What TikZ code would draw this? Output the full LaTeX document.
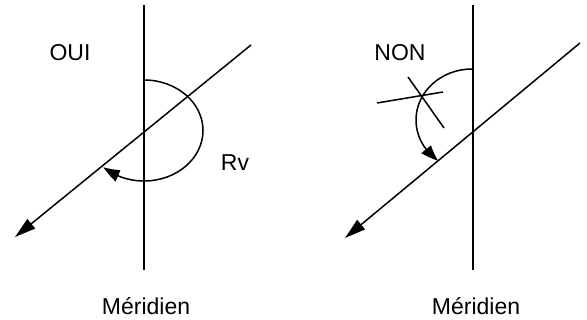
\documentclass[tikz,border=0pt]{standalone}
\usepackage{fontspec}
\setmainfont{Liberation Sans}
\usetikzlibrary{arrows.meta,bending}
\begin{document}
\begin{tikzpicture}[x=1pt,y=1pt,
  ligne/.style={line width=1.5pt,black},
  bigarrow/.style={ligne,-{Triangle[length=21pt,width=12pt]}},
  smallarrow/.style={ligne,-{Triangle[length=17pt,width=12pt,bend]}},
  lbl/.style={inner sep=0pt,font=\fontsize{23}{26}\selectfont}]
\useasboundingbox (0,0) rectangle (587,320);
% ---- left diagram ----
\coordinate (m1t) at (144,315);
\coordinate (m1b) at (144,50);
\coordinate (r1s) at (251,275);
\coordinate (r1e) at (15,83);
\coordinate (a1s) at (144,240);
\draw[ligne] (m1t) -- (m1b);
\draw[bigarrow] (r1s) -- (r1e);
\draw[smallarrow] (a1s) arc[start angle=90,end angle=-133.5,x radius=59,y radius=50.5];
\node[lbl] (oui) at (70,267) {OUI};
\node[lbl] (rv) at (235,157) {Rv};
\node[lbl] (mer1) at (146,14) {Méridien};
% ---- right diagram ----
\coordinate (m2t) at (473,315);
\coordinate (m2b) at (473,50);
\coordinate (r2s) at (580,277);
\coordinate (r2e) at (345,82);
\coordinate (a2s) at (472,251);
\draw[ligne] (m2t) -- (m2b);
\draw[bigarrow] (r2s) -- (r2e);
\draw[smallarrow] (a2s) arc[start angle=90,end angle=233,x radius=56,y radius=51];
\coordinate (c1a) at (377,217);
\coordinate (c1b) at (443,228);
\coordinate (c2a) at (408,243);
\coordinate (c2b) at (444,192);
\draw[ligne] (c1a) -- (c1b);
\draw[ligne] (c2a) -- (c2b);
\node[lbl] (non) at (400,267) {NON};
\node[lbl] (mer2) at (476,14) {Méridien};
\end{tikzpicture}
\end{document}
